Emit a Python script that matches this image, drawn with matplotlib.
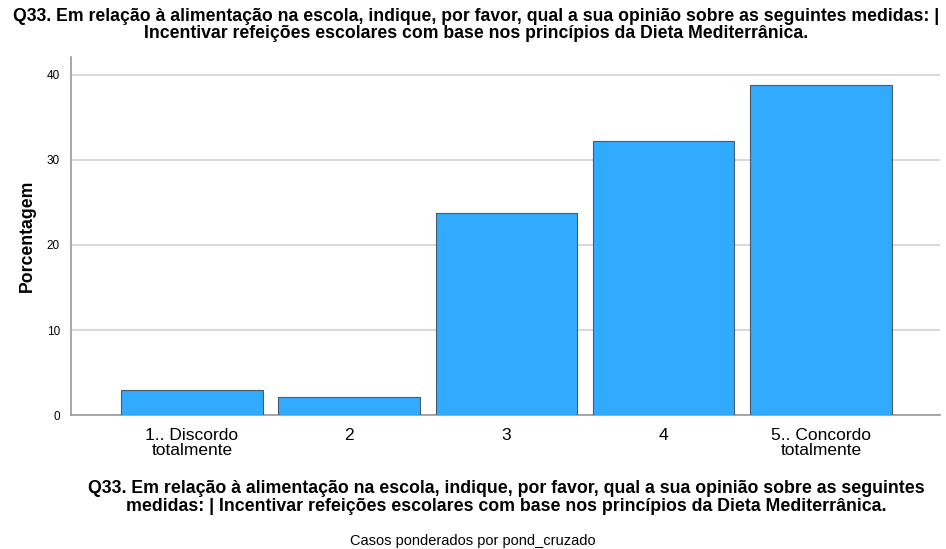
import matplotlib
matplotlib.use("Agg")
import matplotlib.pyplot as plt

plt.rcParams["font.family"] = ["Liberation Sans", "DejaVu Sans"]

categories = ["1.. Discordo\ntotalmente", "2", "3", "4", "5.. Concordo\ntotalmente"]
percentages = [2.9, 2.1, 23.8, 32.2, 38.8]
yticks = [0, 10, 20, 30, 40]

title = ("Q33. Em relação à alimentação na escola, indique, por favor, qual a sua opinião sobre as seguintes medidas: |\n"
         "Incentivar refeições escolares com base nos princípios da Dieta Mediterrânica.")
xlabel = ("Q33. Em relação à alimentação na escola, indique, por favor, qual a sua opinião sobre as seguintes\n"
          "medidas: | Incentivar refeições escolares com base nos princípios da Dieta Mediterrânica.")
footnote = "Casos ponderados por pond_cruzado"

fig = plt.figure(figsize=(9.46, 5.49), dpi=100)
ax = fig.add_axes([0.075, 0.244, 0.919, 0.652])

x = range(len(categories))
ax.bar(x, percentages, width=0.9, color="#30abff", edgecolor="#4d5a66",
       linewidth=0.8, zorder=3)

ax.set_xlim(-0.77, 4.76)
ax.set_ylim(0, 42.1)
ax.set_yticks(yticks)
ax.set_xticks(list(x))
ax.set_xticklabels(categories, fontsize=12.5, linespacing=1.0)
ax.tick_params(axis="y", length=0, pad=8, labelsize=8.5)
ax.tick_params(axis="x", length=0, pad=9)
ax.grid(True, axis="y", color="#d9d9d9", linewidth=1.5, zorder=0)

for side in ("top", "right"):
    ax.spines[side].set_visible(False)
for side in ("left", "bottom"):
    ax.spines[side].set_color("#999999")
    ax.spines[side].set_linewidth(1.2)

ax.set_ylabel("Porcentagem", fontsize=12.7, fontweight="bold", labelpad=8)
fig.text(0.503, 0.954, title, ha="center", va="center", fontsize=12.7,
         fontweight="bold", linespacing=0.98)
fig.text(0.535, 0.094, xlabel, ha="center", va="center", fontsize=12.75,
         fontweight="bold", linespacing=1.02)
fig.text(0.5, 0.0146, footnote, ha="center", va="center", fontsize=10.5)

fig.savefig("out.png", dpi=100)
